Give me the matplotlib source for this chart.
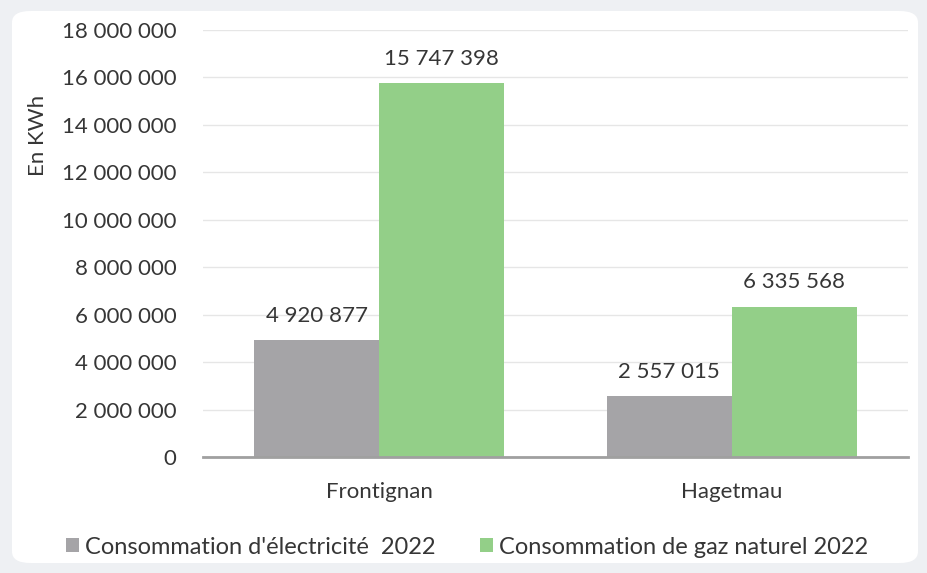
import numpy as np
import matplotlib.pyplot as plt
from matplotlib.patches import FancyBboxPatch

plt.rcParams['font.family'] = ['Lato', 'DejaVu Sans']

# data
villes = ["Frontignan", "Hagetmau"]
electricite = [4920877, 2557015]
gaz = [15747398, 6335568]
legende = ["Consommation d'électricité  2022", "Consommation de gaz naturel 2022"]
y_ticks = np.arange(0, 18000001, 2000000)

gris = "#a5a4a7"
vert = "#93cf88"
texte = "#363636"
fs = 16


def fmt(v):
    # thousands separated by a space, french style
    return f"{int(v):,}".replace(",", " ")


fig = plt.figure(figsize=(9.27, 5.73), dpi=100)
fig.patch.set_facecolor("#eef0f3")

# white card behind the chart
card = FancyBboxPatch((12 / 927, 10 / 573), 906 / 927, 552 / 573,
                      boxstyle="round,pad=0,rounding_size=0.02",
                      transform=fig.transFigure, facecolor="white",
                      edgecolor="none", zorder=-10)
fig.patches.append(card)

ax = fig.add_axes([203 / 927, 1 - 457 / 573, 705 / 927, 427 / 573])
ax.set_facecolor("none")

x = np.arange(len(villes))
w = 0.355
b1 = ax.bar(x - w / 2, electricite, w, color=gris, label=legende[0], zorder=2)
b2 = ax.bar(x + w / 2, gaz, w, color=vert, label=legende[1], zorder=2)

for bars in (b1, b2):
    for r in bars:
        ax.text(r.get_x() + r.get_width() / 2, r.get_height() + 600000,
                fmt(r.get_height()), ha="center", va="bottom",
                fontsize=fs, color=texte)

ax.set_xlim(-0.5, 1.5)
ax.set_ylim(0, 18000000)
ax.set_yticks(y_ticks)
ax.set_yticklabels([fmt(v) for v in y_ticks], fontsize=fs, color=texte)
ax.set_xticks(x)
ax.set_xticklabels(villes, fontsize=fs, color=texte)
ax.tick_params(axis="both", length=0)
ax.tick_params(axis="y", pad=19)
ax.tick_params(axis="x", pad=18)

ax.grid(axis="y", color="#e6e6e6", lw=1, zorder=0)
for s in ["top", "right", "left"]:
    ax.spines[s].set_visible(False)
ax.spines["bottom"].set_color("#a0a0a0")
ax.spines["bottom"].set_linewidth(2)
ax.spines["bottom"].set_zorder(3)

fig.text(38 / 927, 1 - 135 / 573, "En KWh", rotation=90, ha="center",
         va="center", fontsize=fs, color=texte)

leg = fig.legend(handles=[b1, b2], labels=legende, loc="center",
                 bbox_to_anchor=(467 / 927, 1 - 547 / 573), ncol=2,
                 frameon=False, fontsize=17, handlelength=0.55,
                 handleheight=0.55, handletextpad=0.25, columnspacing=1.9)
for t in leg.get_texts():
    t.set_color(texte)

fig.savefig("out.png", dpi=100, facecolor=fig.get_facecolor())
